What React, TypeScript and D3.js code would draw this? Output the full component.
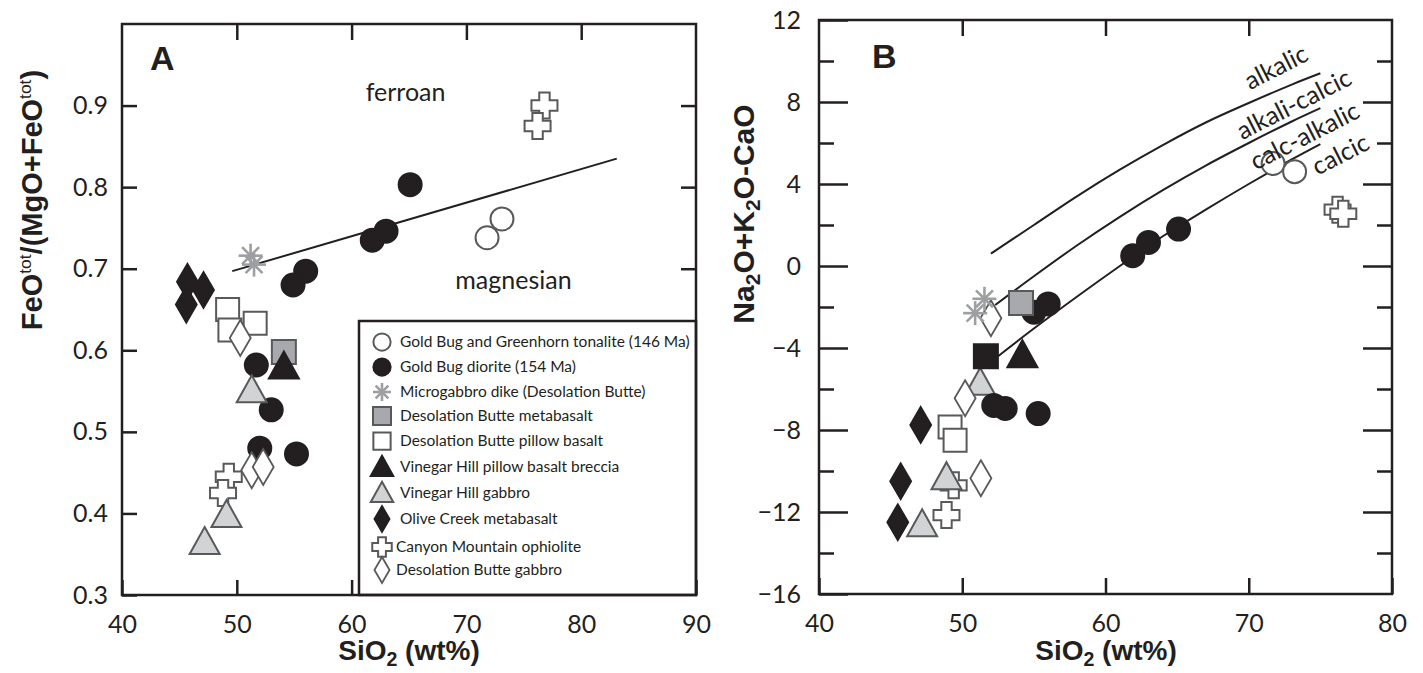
import React, { useEffect, useRef } from "react";
import * as d3 from "d3";

const width = 1423;
const height = 673;

// ---- panel A : FeOtot/(MgO+FeOtot) vs SiO2 ----
const xTicksA = [40, 50, 60, 70, 80, 90];
const yTicksA = [0.3, 0.4, 0.5, 0.6, 0.7, 0.8, 0.9];
const tonaliteA = [[71.8, 0.738], [73.1, 0.761]];
const dioriteA = [[65.1, 0.803], [63.0, 0.746], [61.8, 0.735], [56.0, 0.697], [54.9, 0.68], [51.7, 0.582], [53.0, 0.527], [52.0, 0.48], [55.2, 0.473]];
const microgabbroA = [[51.2, 0.716], [51.5, 0.705]];
const dbMetabasaltA = [[54.1, 0.598]];
const dbPillowA = [[49.2, 0.65], [51.6, 0.633], [49.4, 0.625]];
const vhBrecciaA = [[54.1, 0.58]];
const vhGabbroA = [[51.3, 0.551], [49.1, 0.398], [47.2, 0.365]];
const oliveCreekA = [[45.7, 0.684], [47.1, 0.674], [45.6, 0.656]];
const canyonMtnA = [[76.8, 0.9], [76.2, 0.875], [49.3, 0.445], [48.8, 0.425]];
const dbGabbroA = [[50.3, 0.615], [51.3, 0.453], [52.3, 0.457]];
const ferroanLine = [[49.6, 0.697], [83.1, 0.835]];

// ---- panel B : Na2O+K2O-CaO vs SiO2 ----
const xTicksB = [40, 50, 60, 70, 80];
const yTicksB = [-16, -12, -8, -4, 0, 4, 8, 12];
const yMinorB = [-14, -10, -6, -2, 2, 6, 10];
const tonaliteB = [[71.7, 5.0], [73.2, 4.6]];
const dioriteB = [[65.1, 1.8], [63.0, 1.15], [61.9, 0.5], [56.0, -1.85], [55.0, -2.25], [52.2, -6.8], [53.0, -6.95], [55.3, -7.2]];
const microgabbroB = [[51.55, -1.6], [50.9, -2.3]];
const dbMetabasaltB = [[54.1, -1.8]];
const dbPillowB = [[49.15, -7.85], [49.5, -8.5]];
const vhBrecciaB = [[54.2, -4.35]];
const vhGabbroB = [[51.25, -5.7], [48.9, -10.3], [47.2, -12.6]];
const oliveCreekB = [[47.1, -7.75], [45.7, -10.5], [45.5, -12.5]];
const canyonMtnB = [[76.2, 2.75], [76.6, 2.55], [49.4, -10.7], [48.9, -12.15]];
const dbGabbroB = [[52.0, -2.55], [50.2, -6.45], [51.3, -10.35]];
const blackSquareB = [[51.65, -4.4]];
const alkalicLine = [[52.0, 0.6], [55, 2.0], [58, 3.4], [61, 4.7], [64, 5.9], [67, 7.0], [70, 7.95], [73, 8.85], [75, 9.4]];
const alkaliCalcicLine = [[52.3, -1.9], [55, -0.5], [58, 1.0], [61, 2.4], [64, 3.7], [67, 4.9], [70, 6.0], [73, 7.05], [75, 7.7]];
const calcAlkalicLine = [[52.5, -4.4], [55, -3.05], [58, -1.5], [61, 0.0], [64, 1.45], [67, 2.75], [70, 4.0], [73, 5.2], [75, 5.95]];
const fieldLabelsB = [["alkalic", 71.9, 9.7], ["alkali-calcic", 73.15, 7.9], ["calc-alkalic", 73.9, 6.35], ["calcic", 76.4, 5.45]];
const fieldLabelsA = [["ferroan", 64.7, 0.905], ["magnesian", 74.1, 0.675]];

const legendItems = [
  ["openCircle", "Gold Bug and Greenhorn tonalite (146 Ma)"],
  ["circle", "Gold Bug diorite (154 Ma)"],
  ["asterisk", "Microgabbro dike (Desolation Butte)"],
  ["graySquare", "Desolation Butte metabasalt"],
  ["openSquare", "Desolation Butte pillow basalt"],
  ["triangle", "Vinegar Hill pillow basalt breccia"],
  ["grayTriangle", "Vinegar Hill gabbro"],
  ["diamond", "Olive Creek metabasalt"],
  ["cross", "Canyon Mountain ophiolite"],
  ["openDiamond", "Desolation Butte gabbro"],
];

const INK = "#231f20";
const OUT = "#58595b";
const SANS = "Lato, 'Open Sans', sans-serif";
const BOLD = "'Liberation Sans', Arial, sans-serif";

function marker(g, kind, x, y, k = 1) {
  const poly = (pts, fill, stroke, sw) =>
    g.append("polygon")
      .attr("points", pts.map((p) => `${x + p[0] * k},${y + p[1] * k}`).join(" "))
      .attr("fill", fill).attr("stroke", stroke).attr("stroke-width", sw)
      .attr("stroke-linejoin", "miter");
  if (kind === "openCircle" || kind === "circle") {
    g.append("circle").attr("cx", x).attr("cy", y).attr("r", 11.5 * k)
      .attr("fill", kind === "circle" ? INK : "#fff")
      .attr("stroke", kind === "circle" ? INK : OUT).attr("stroke-width", 2);
  } else if (kind === "asterisk") {
    const r = 12 * k;
    [0, 45, 90, 135].forEach((a) => {
      const t = (a * Math.PI) / 180;
      g.append("line")
        .attr("x1", x - r * Math.cos(t)).attr("y1", y - r * Math.sin(t))
        .attr("x2", x + r * Math.cos(t)).attr("y2", y + r * Math.sin(t))
        .attr("stroke", "#9d9fa2").attr("stroke-width", 2.6);
    });
  } else if (kind === "graySquare" || kind === "openSquare" || kind === "blackSquare") {
    const s = kind === "openSquare" ? 11.5 : 12;
    const fill = kind === "graySquare" ? "#a7a9ac" : kind === "blackSquare" ? INK : "#fff";
    const stroke = kind === "blackSquare" ? INK : OUT;
    poly([[-s, -s], [s, -s], [s, s], [-s, s]], fill, stroke, 2);
  } else if (kind === "triangle" || kind === "grayTriangle") {
    const fill = kind === "triangle" ? INK : "#d1d3d4";
    const stroke = kind === "triangle" ? INK : OUT;
    poly([[0, -15], [15, 12], [-15, 12]], fill, stroke, 2);
  } else if (kind === "diamond" || kind === "openDiamond") {
    const fill = kind === "diamond" ? INK : "#fff";
    const stroke = kind === "diamond" ? INK : OUT;
    poly([[0, -18], [10.5, 0], [0, 18], [-10.5, 0]], fill, stroke, 1.8);
  } else if (kind === "cross") {
    const s = 13, a = 5.2;
    poly([[-a, -s], [a, -s], [a, -a], [s, -a], [s, a], [a, a], [a, s], [-a, s], [-a, a], [-s, a], [-s, -a], [-a, -a]], "#fff", OUT, 2);
  }
}

function drawSeries(g, x, y, list) {
  list.forEach(([kind, data]) => data.forEach((d) => marker(g, kind, x(d[0]), y(d[1]))));
}

function styleAxis(ax, fontSize = 25) {
  ax.select(".domain").remove();
  ax.selectAll("line").attr("stroke", INK).attr("stroke-width", 2.5);
  ax.selectAll("text").attr("fill", INK).attr("font-family", SANS).attr("font-size", fontSize);
}

function subText(t, parts, fs) {
  // parts: [text, kind] where kind shifts the baseline for sub/superscripts
  parts.forEach(([s, kind]) => {
    const ts = t.append("tspan").text(s);
    if (kind === "sub") ts.attr("font-size", fs * 0.7).attr("dy", fs * 0.2);
    if (kind === "sup") ts.attr("font-size", fs * 0.6).attr("font-weight", "normal").attr("dy", -fs * 0.38);
    if (kind === "back-sub") ts.attr("dy", -fs * 0.2);
    if (kind === "back-sup") ts.attr("dy", fs * 0.38);
  });
}

export default function App() {
  const ref = useRef(null);

  useEffect(() => {
    const svg = d3.select(ref.current).attr("width", width).attr("height", height);
    svg.selectAll("*").remove();
    svg.append("rect").attr("width", width).attr("height", height).attr("fill", "#fff");

    // ================= panel A =================
    const xA = d3.scaleLinear().domain([40, 90]).range([122, 696]);
    const yA = d3.scaleLinear().domain([0.3, 1.0]).range([595, 24]);
    const gA = svg.append("g");

    const inner = yTicksA.filter((v) => v > 0.3);
    const xin = xTicksA.filter((v) => v > 40 && v < 90);
    styleAxis(gA.append("g").attr("transform", "translate(122,0)")
      .call(d3.axisLeft(yA).tickValues(yTicksA).tickSize(-15).tickPadding(14).tickFormat(d3.format(".1f"))));
    styleAxis(gA.append("g").attr("transform", "translate(696,0)")
      .call(d3.axisRight(yA).tickValues(inner).tickSize(-15).tickFormat(() => "")));
    styleAxis(gA.append("g").attr("transform", "translate(0,24)")
      .call(d3.axisTop(xA).tickValues(xin).tickSize(-16).tickFormat(() => "")));
    styleAxis(gA.append("g").attr("transform", "translate(0,595)")
      .call(d3.axisBottom(xA).tickValues(xTicksA).tickSize(-15).tickPadding(20).tickFormat(d3.format("d"))));

    gA.append("path").datum(ferroanLine)
      .attr("d", d3.line().x((d) => xA(d[0])).y((d) => yA(d[1])))
      .attr("fill", "none").attr("stroke", INK).attr("stroke-width", 2);

    fieldLabelsA.forEach(([s, vx, vy]) => {
      gA.append("text").attr("x", xA(vx)).attr("y", yA(vy)).attr("text-anchor", "middle")
        .attr("font-family", SANS).attr("font-size", 25).attr("fill", INK).text(s);
    });

    drawSeries(gA, xA, yA, [
      ["cross", canyonMtnA],
      ["openCircle", tonaliteA],
      ["circle", dioriteA],
      ["diamond", oliveCreekA],
      ["openSquare", dbPillowA],
      ["openDiamond", dbGabbroA],
      ["graySquare", dbMetabasaltA],
      ["triangle", vhBrecciaA],
      ["grayTriangle", vhGabbroA],
      ["asterisk", microgabbroA],
    ]);

    // legend
    const lg = gA.append("g");
    lg.append("rect").attr("x", 359).attr("y", 321).attr("width", 337).attr("height", 274)
      .attr("fill", "#fff").attr("stroke", INK).attr("stroke-width", 2.5);
    const rowY = [342, 367, 392, 416, 441, 467, 493, 519, 547, 570];
    legendItems.forEach(([kind, label], i) => {
      marker(lg, kind, 382, rowY[i], kind === "diamond" || kind === "openDiamond" ? 0.72 : 0.75);
      lg.append("text").attr("x", kind === "cross" || kind === "openDiamond" ? 396 : 400).attr("y", rowY[i])
        .attr("dy", "0.35em").attr("font-family", SANS).attr("font-size", 15.5).attr("fill", INK).text(label);
    });

    gA.append("rect").attr("x", 122).attr("y", 24).attr("width", 574).attr("height", 571)
      .attr("fill", "none").attr("stroke", INK).attr("stroke-width", 2.5);

    gA.append("text").attr("x", 150).attr("y", 70).attr("font-family", BOLD).attr("font-weight", "bold")
      .attr("font-size", 34).attr("fill", INK).text("A");

    const xtA = gA.append("text").attr("x", 409).attr("y", 660).attr("text-anchor", "middle")
      .attr("font-family", BOLD).attr("font-weight", "bold").attr("font-size", 28).attr("fill", INK);
    subText(xtA, [["SiO"], ["2", "sub"], [" (wt%)", "back-sub"]], 28);

    const ytA = gA.append("text").attr("transform", "translate(42,200) rotate(-90)").attr("text-anchor", "middle")
      .attr("font-family", BOLD).attr("font-weight", "bold").attr("font-size", 29).attr("fill", INK);
    subText(ytA, [["FeO"], ["tot", "sup"], ["/(MgO+FeO", "back-sup"], ["tot", "sup"], [")", "back-sup"]], 29);

    // ================= panel B =================
    const xB = d3.scaleLinear().domain([40, 80]).range([819, 1392]);
    const yB = d3.scaleLinear().domain([-16, 12]).range([594, 20]);
    const gB = svg.append("g");

    const majIn = yTicksB.filter((v) => v > -16 && v < 12);
    const xinB = xTicksB.filter((v) => v > 40 && v < 80);
    styleAxis(gB.append("g").attr("transform", "translate(819,0)")
      .call(d3.axisLeft(yB).tickValues(yTicksB).tickSize(-29).tickPadding(18).tickFormat(d3.format("d"))));
    styleAxis(gB.append("g").attr("transform", "translate(819,0)")
      .call(d3.axisLeft(yB).tickValues(yMinorB).tickSize(-15).tickFormat(() => "")));
    styleAxis(gB.append("g").attr("transform", "translate(1392,0)")
      .call(d3.axisRight(yB).tickValues(majIn).tickSize(-29).tickFormat(() => "")));
    styleAxis(gB.append("g").attr("transform", "translate(1392,0)")
      .call(d3.axisRight(yB).tickValues(yMinorB).tickSize(-15).tickFormat(() => "")));
    styleAxis(gB.append("g").attr("transform", "translate(0,20)")
      .call(d3.axisTop(xB).tickValues(xinB).tickSize(-16).tickFormat(() => "")));
    styleAxis(gB.append("g").attr("transform", "translate(0,594)")
      .call(d3.axisBottom(xB).tickValues(xTicksB).tickSize(-16).tickPadding(20).tickFormat(d3.format("d"))));

    const curve = d3.line().x((d) => xB(d[0])).y((d) => yB(d[1])).curve(d3.curveCatmullRom);
    [alkalicLine, alkaliCalcicLine, calcAlkalicLine].forEach((ln) => {
      gB.append("path").datum(ln).attr("d", curve)
        .attr("fill", "none").attr("stroke", INK).attr("stroke-width", 2);
    });

    drawSeries(gB, xB, yB, [
      ["openCircle", tonaliteB],
      ["cross", canyonMtnB],
      ["diamond", oliveCreekB],
      ["openSquare", dbPillowB],
      ["grayTriangle", vhGabbroB],
      ["openDiamond", dbGabbroB],
      ["circle", dioriteB],
      ["graySquare", dbMetabasaltB],
      ["blackSquare", blackSquareB],
      ["triangle", vhBrecciaB],
      ["asterisk", microgabbroB],
    ]);

    fieldLabelsB.forEach(([s, vx, vy]) => {
      gB.append("text").attr("transform", `translate(${xB(vx)},${yB(vy)}) rotate(-27)`)
        .attr("text-anchor", "middle").attr("dy", "0.35em")
        .attr("font-family", SANS).attr("font-size", 25).attr("fill", INK).text(s);
    });

    gB.append("rect").attr("x", 819).attr("y", 20).attr("width", 573).attr("height", 574)
      .attr("fill", "none").attr("stroke", INK).attr("stroke-width", 2.5);

    gB.append("text").attr("x", 872).attr("y", 68).attr("font-family", BOLD).attr("font-weight", "bold")
      .attr("font-size", 34).attr("fill", INK).text("B");

    const xtB = gB.append("text").attr("x", 1106).attr("y", 660).attr("text-anchor", "middle")
      .attr("font-family", BOLD).attr("font-weight", "bold").attr("font-size", 28).attr("fill", INK);
    subText(xtB, [["SiO"], ["2", "sub"], [" (wt%)", "back-sub"]], 28);

    const ytB = gB.append("text").attr("transform", "translate(754,214) rotate(-90)").attr("text-anchor", "middle")
      .attr("font-family", BOLD).attr("font-weight", "bold").attr("font-size", 30).attr("fill", INK);
    subText(ytB, [["Na"], ["2", "sub"], ["O+K", "back-sub"], ["2", "sub"], ["O-CaO", "back-sub"]], 30);
  }, []);

  return <svg ref={ref} style={{ position: "absolute", left: 0, top: 0 }} />;
}
